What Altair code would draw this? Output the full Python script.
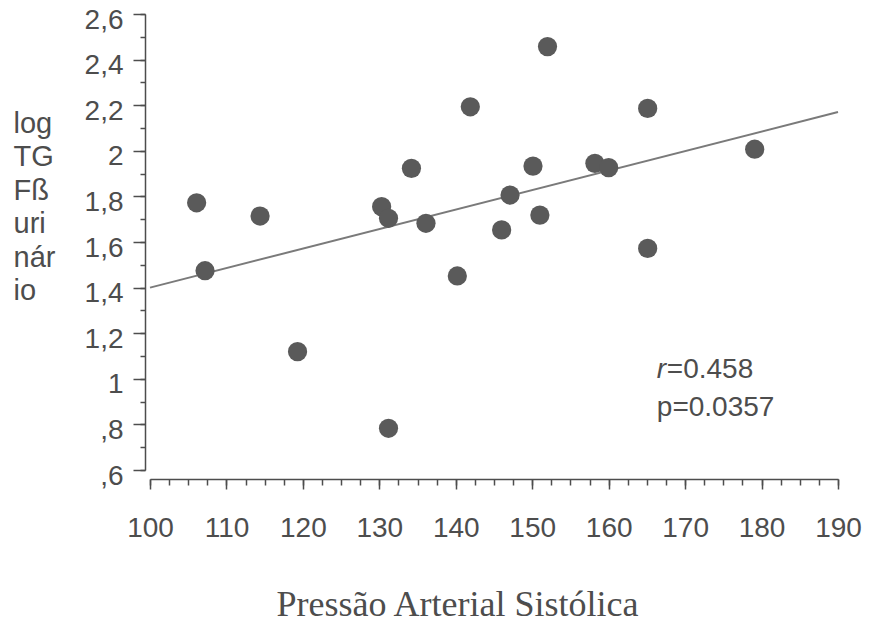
import altair as alt
import pandas as pd

# Systolic blood pressure (mmHg) and log urinary TGF-beta, one value per subject
pas = [106.1, 114.4, 107.2, 119.3, 130.3, 131.2, 134.2, 136.1, 141.9, 140.2,
       131.2, 152.0, 165.1, 150.1, 158.2, 160.0, 179.1, 147.1, 151.0, 146.0, 165.1]
log_tgf = [1.772, 1.714, 1.474, 1.119, 1.755, 1.704, 1.923, 1.682, 2.193, 1.451,
           0.783, 2.457, 2.186, 1.933, 1.945, 1.926, 2.007, 1.806, 1.718, 1.653, 1.572]

# Fitted regression line end points
fit_x = [100, 190]
fit_y = [1.40, 2.17]

# Statistics printed inside the plot
stat_lines = ["=0.458", "p=0.0357"]
stat_x = 166.3
stat_y = [1.039, 0.872]

x_major = [100, 110, 120, 130, 140, 150, 160, 170, 180, 190]
x_minor = [100 + 2.5 * i for i in range(37)]
y_major = [0.6, 0.8, 1.0, 1.2, 1.4, 1.6, 1.8, 2.0, 2.2, 2.4, 2.6]
y_minor = [round(0.6 + 0.1 * i, 1) for i in range(21)]

points = pd.DataFrame({"pas": pas, "tgf": log_tgf})
fit = pd.DataFrame({"pas": fit_x, "tgf": fit_y})
stats = pd.DataFrame({"pas": [stat_x, stat_x], "tgf": stat_y, "txt": stat_lines})
r_lab = pd.DataFrame({"pas": [stat_x], "tgf": [stat_y[0]], "txt": ["r"]})

INK = "#4d4d4d"
SANS = "Liberation Sans"

xs = alt.Scale(domain=[100, 190], nice=False, zero=False)
ys = alt.Scale(domain=[0.6, 2.6], nice=False, zero=False)

label_expr = "replace(replace(format(datum.value, '~g'), '0.', ','), '.', ',')"

x_axis = alt.Axis(
    values=x_major, orient="bottom", offset=9, tickSize=10, tickColor=INK,
    domainColor=INK, domainWidth=1.5, tickWidth=1.5, grid=False,
    labelFont=SANS, labelFontSize=28, labelColor=INK, labelPadding=25,
    labelFlush=False,
    title="Pressão Arterial Sistólica", titleFont="Liberation Serif",
    titleFontSize=36, titleFontWeight="normal", titleColor=INK,
    titleAlign="center", titleAnchor="start", titleX=307, titleY=125,
    titleBaseline="middle",
)
x_axis_minor = alt.Axis(
    values=x_minor, orient="bottom", offset=9, tickSize=6, tickColor=INK,
    tickWidth=1.5, domain=False, labels=False, title=None, grid=False,
)
y_axis = alt.Axis(
    values=y_major, orient="left", offset=5, tickSize=12, tickColor=INK,
    domainColor=INK, domainWidth=1.5, tickWidth=1.5, grid=False,
    labelFont=SANS, labelFontSize=28, labelColor=INK, labelPadding=10,
    labelOffset=6, labelExpr=label_expr, labelFlush=False,
    title=["log", "TG", "Fß", "uri", "nár", "io"], titleAngle=0,
    titleFont=SANS, titleFontSize=29, titleFontWeight="normal",
    titleColor=INK, titleAlign="left", titleBaseline="top",
    titleLineHeight=33.5, titleX=-132, titleY=95, titleAnchor="start",
)
y_axis_minor = alt.Axis(
    values=y_minor, orient="left", offset=5, tickSize=5, tickColor=INK,
    tickWidth=1.5, domain=False, labels=False, title=None, grid=False,
)

# invisible layer that only carries the minor tick axes
minor = alt.Chart(points).mark_point(opacity=0).encode(
    x=alt.X("pas:Q", scale=xs, axis=x_axis_minor),
    y=alt.Y("tgf:Q", scale=ys, axis=y_axis_minor),
)

line = alt.Chart(fit).mark_line(color="#7a7a7a", strokeWidth=2).encode(
    x=alt.X("pas:Q", scale=xs, axis=None),
    y=alt.Y("tgf:Q", scale=ys, axis=None),
)

dots = alt.Chart(points).mark_circle(size=370, color="#5a5a5a", opacity=1).encode(
    x=alt.X("pas:Q", scale=xs, axis=x_axis),
    y=alt.Y("tgf:Q", scale=ys, axis=y_axis),
)


def stat_layer(df, dx=0, italic=False):
    kw = dict(align="left", baseline="middle", font=SANS, fontSize=28,
              color=INK, dx=dx)
    if italic:
        kw["fontStyle"] = "italic"
    return alt.Chart(df).mark_text(**kw).encode(
        x=alt.X("pas:Q", scale=xs, axis=None),
        y=alt.Y("tgf:Q", scale=ys, axis=None),
        text="txt:N",
    )


r_text = stat_layer(r_lab, italic=True)
r_rest = stat_layer(stats.iloc[[0]], dx=10)
p_text = stat_layer(stats.iloc[[1]])

chart = (
    alt.layer(minor, line, dots, r_text, r_rest, p_text)
    .resolve_axis(x="independent", y="independent")
    .properties(
        width=688, height=456,
        autosize=alt.AutoSizeParams(type="none"),
        padding={"left": 150, "top": 14, "right": 31, "bottom": 155},
        background="white",
    )
    .configure_view(stroke=None)
)

chart.save("out.html", embed_options={"renderer": "svg", "actions": False})
